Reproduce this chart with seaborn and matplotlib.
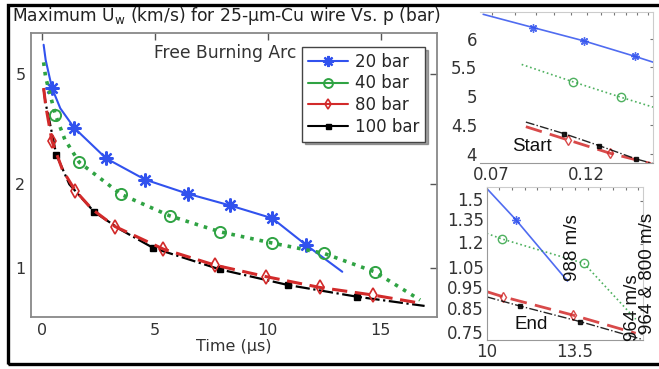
import numpy as np
import matplotlib
matplotlib.use("Agg")
import matplotlib.pyplot as plt
import matplotlib.ticker as mticker
from matplotlib.lines import Line2D
from matplotlib.patches import Rectangle
import seaborn as sns

# ---- main panel data (time in µs, Uw in km/s) ----
t_20 = [0.06, 0.15, 0.43, 0.8, 1.42, 2.83, 4.56, 6.45, 8.32, 10.2, 11.7, 13.3]
u_20 = [6.35, 5.6, 4.44, 3.75, 3.19, 2.48, 2.08, 1.85, 1.68, 1.51, 1.21, 0.97]
mk_20 = [2, 4, 5, 6, 7, 8, 9, 10]

t_40 = [0.06, 0.15, 0.58, 1.0, 1.64, 3.5, 5.66, 7.88, 10.2, 12.48, 14.73, 16.75]
u_40 = [5.49, 4.85, 3.56, 2.9, 2.40, 1.84, 1.54, 1.35, 1.23, 1.13, 0.97, 0.768]
mk_40 = [2, 4, 5, 6, 7, 8, 9, 10]

t_80 = [0.06, 0.15, 0.43, 0.9, 1.46, 2.2, 3.23, 5.37, 7.65, 9.94, 12.3, 14.66, 16.8]
u_80 = [4.44, 3.85, 2.86, 2.25, 1.90, 1.63, 1.41, 1.17, 1.025, 0.931, 0.852, 0.80, 0.747]
mk_80 = [2, 4, 6, 7, 8, 9, 10, 11]

t_100 = [0.06, 0.15, 0.28, 0.62, 1.2, 2.31, 3.5, 4.93, 7.88, 10.9, 13.95, 16.95]
u_100 = [4.4, 3.9, 3.5, 2.56, 2.0, 1.59, 1.37, 1.18, 0.989, 0.869, 0.789, 0.731]
mk_100 = [3, 5, 7, 8, 9, 10]

labels = ["20 bar", "40 bar", "80 bar", "100 bar"]

# ---- "Start" inset ----
s_t_20 = [0.0667, 0.0886, 0.118, 0.158, 0.175]
s_u_20 = [6.42, 6.19, 5.96, 5.69, 5.59]
s_t_40 = [0.083, 0.111, 0.146, 0.175]
s_u_40 = [5.55, 5.25, 4.98, 4.81]
s_t_80 = [0.085, 0.108, 0.137, 0.173]
s_u_80 = [4.47, 4.24, 4.01, 3.83]
s_t_100 = [0.085, 0.1055, 0.129, 0.159, 0.175]
s_u_100 = [4.55, 4.35, 4.14, 3.91, 3.83]

# ---- "End" inset ----
e_t_20 = [10.0, 11.15, 13.2]
e_u_20 = [1.60, 1.36, 0.988]
e_t_40 = [10.0, 10.6, 13.85, 15.9]
e_u_40 = [1.266, 1.23, 1.083, 0.81]
e_t_80 = [10.0, 10.66, 13.4, 15.9]
e_u_80 = [0.935, 0.91, 0.828, 0.753]
e_t_100 = [10.0, 11.3, 13.7, 16.1]
e_u_100 = [0.91, 0.868, 0.80, 0.731]
end_ticks = [0.75, 0.85, 0.95, 1.05, 1.2, 1.35, 1.5]
end_tick_labels = ["0.75", "0.85", "0.95", "1.05", "1.2", "1.35", "1.5"]

colors = ["#3152ee", "#2fa343", "#d22a2a", "black"]
styles = [dict(ls="-", lw=1.5, marker=(8, 2, 0), ms=10, mew=1.6),
          dict(ls=":", lw=2.6, marker="o", ms=8, mew=1.4, mfc="none"),
          dict(ls=(0, (5, 2.5)), lw=2.2, marker="d", ms=7, mew=1.2, mfc="none"),
          dict(ls="-.", lw=1.6, marker="s", ms=4.5, mew=1)]

sns.set_style("white")
plt.rcParams["font.family"] = ["DejaVu Sans"]
plt.rcParams["xtick.direction"] = "in"
plt.rcParams["ytick.direction"] = "in"

fig = plt.figure(figsize=(6.59, 3.69), dpi=100)

# outer frame
fig.patches.append(Rectangle((8 / 659, 1 - 364 / 369), 1.0, 359 / 369,
                             transform=fig.transFigure, fill=False,
                             lw=2.4, ec="black", zorder=0))

fig.text(12 / 659, 1 - 16 / 369,
         "Maximum U$_\\mathrm{w}$ (km/s) for 25-µm-Cu wire Vs. p (bar)",
         fontsize=12.3, color="#222222", va="center", ha="left")

ax = fig.add_axes([31 / 659, 1 - 317 / 369, 406 / 659, 284 / 369])
series = [(t_20, u_20, mk_20), (t_40, u_40, mk_40),
          (t_80, u_80, mk_80), (t_100, u_100, mk_100)]
for i in [3, 0, 1, 2]:
    t, u, mk = series[i]
    sns.lineplot(x=t, y=u, ax=ax, sort=False, estimator=None, color=colors[i],
                 markevery=mk, mec=colors[i], **styles[i])

ax.set_yscale("log")
ax.set_xlim(-0.5, 17.5)
ax.set_ylim(0.667, 7.0)
ax.set_xticks([0, 5, 10, 15])
ax.set_yticks([1, 2, 5], ["1", "2", "5"])
ax.yaxis.set_minor_locator(mticker.NullLocator())
ax.tick_params(which="both", top=True, right=True, length=5, width=1,
               color="#555555", labelsize=11.5, labelcolor="#333333", pad=4)
for sp in ax.spines.values():
    sp.set_color("#888888")
    sp.set_linewidth(1.3)
ax.set_xlabel("Time (µs)", fontsize=11.5, color="#333333", labelpad=1)
ax.text(0.478, 0.93, "Free Burning Arc", transform=ax.transAxes,
        ha="center", va="center", fontsize=12.3, color="#333333")

handles = [Line2D([], [], color=colors[i], ls="-", lw=1.5,
                  marker=styles[i]["marker"], ms=styles[i]["ms"] * 0.8,
                  mew=styles[i]["mew"], mfc=styles[i].get("mfc", colors[i]),
                  mec=colors[i]) for i in range(4)]
leg = ax.legend(handles, labels, loc="upper right", bbox_to_anchor=(0.970, 0.951),
                borderaxespad=0, fontsize=12, frameon=True, fancybox=False,
                shadow=True, handlelength=2.4, labelspacing=0.22,
                handletextpad=0.4, borderpad=0.35)
leg.get_frame().set_edgecolor("#444444")
leg.get_frame().set_linewidth(1.0)

inset_lw = [1.2, 1.2, 2.0, 1.0]
inset_ls = ["-", ":", (0, (6, 3)), "-."]
inset_ms = [6, 6, 5, 3]

# ---- Start inset ----
ax1 = fig.add_axes([480 / 659, 1 - 163 / 369, 173 / 659, 151 / 369])
start = [(s_t_20, s_u_20, [1, 2, 3]), (s_t_40, s_u_40, [1, 2]),
         (s_t_80, s_u_80, [1, 2]), (s_t_100, s_u_100, [1, 2, 3])]
for i, (t, u, mk) in enumerate(start):
    sns.lineplot(x=t, y=u, ax=ax1, sort=False, estimator=None, color=colors[i],
                 ls=inset_ls[i], lw=inset_lw[i], marker=styles[i]["marker"],
                 ms=inset_ms[i], mew=1, mfc=styles[i].get("mfc", colors[i]),
                 mec=colors[i], markevery=mk, alpha=0.85)
ax1.set_xscale("log")
ax1.set_xlim(0.0655, 0.175)
ax1.set_ylim(3.84, 6.46)
ax1.set_xticks([0.07, 0.12], ["0.07", "0.12"])
ax1.xaxis.set_minor_locator(mticker.FixedLocator(
    [0.08, 0.09, 0.1, 0.11, 0.13, 0.14, 0.15, 0.16, 0.17]))
ax1.xaxis.set_minor_formatter(mticker.NullFormatter())
ax1.set_yticks([4, 4.5, 5, 5.5, 6], ["4", "4.5", "5", "5.5", "6"])
ax1.text(0.30, 0.106, "Start", transform=ax1.transAxes, ha="center",
         va="center", fontsize=13.5, family=["Liberation Sans"], color="#111111")

# ---- End inset ----
ax2 = fig.add_axes([486.7 / 659, 1 - 340 / 369, 156.6 / 659, 153.3 / 369])
end = [(e_t_20, e_u_20, [1]), (e_t_40, e_u_40, [1, 2]),
       (e_t_80, e_u_80, [1, 2]), (e_t_100, e_u_100, [1, 2])]
for i, (t, u, mk) in enumerate(end):
    sns.lineplot(x=t, y=u, ax=ax2, sort=False, estimator=None, color=colors[i],
                 ls=inset_ls[i], lw=inset_lw[i], marker=styles[i]["marker"],
                 ms=inset_ms[i], mew=1, mfc=styles[i].get("mfc", colors[i]),
                 mec=colors[i], markevery=mk, alpha=0.85)
ax2.set_yscale("log")
ax2.set_xlim(10, 16.2)
ax2.set_ylim(0.727, 1.614)
ax2.set_xticks([10, 13.5], ["10", "13.5"])
ax2.xaxis.set_minor_locator(mticker.MultipleLocator(0.5))
ax2.yaxis.set_major_locator(mticker.FixedLocator(end_ticks))
ax2.yaxis.set_major_formatter(mticker.NullFormatter())
ax2.yaxis.set_minor_locator(mticker.NullLocator())
ax2.yaxis.set_minor_formatter(mticker.NullFormatter())
# y labels of the End inset written at their tick values
for v, lab in zip(end_ticks, end_tick_labels):
    ax2.text(-0.018, v, lab, transform=ax2.get_yaxis_transform(), ha="right",
             va="center", fontsize=12, color="#333333", clip_on=False)
ax2.text(0.283, 0.098, "End", transform=ax2.transAxes, ha="center",
         va="center", fontsize=13.5, family=["Liberation Sans"], color="#111111")
for txt, fx, fy in [("988 m/s", 0.551, 0.60), ("964 m/s", 0.928, 0.209),
                    ("964 & 800 m/s", 1.03, 0.437)]:
    ax2.text(fx, fy, txt, transform=ax2.transAxes, rotation=90, ha="center",
             va="center", fontsize=13.5, family=["Liberation Sans"],
             color="#111111", clip_on=False)

for a in (ax1, ax2):
    a.tick_params(which="both", top=True, right=True, length=2.5, width=0.8,
                  color="#777777", labelsize=12, labelcolor="#333333", pad=2)
    for sp in a.spines.values():
        sp.set_color("#cccccc")
        sp.set_linewidth(0.8)
    a.spines["bottom"].set_color("#999999")
    a.spines["left"].set_color("#999999")
ax1.spines["left"].set_visible(False)

fig.savefig("out.png", dpi=100)
